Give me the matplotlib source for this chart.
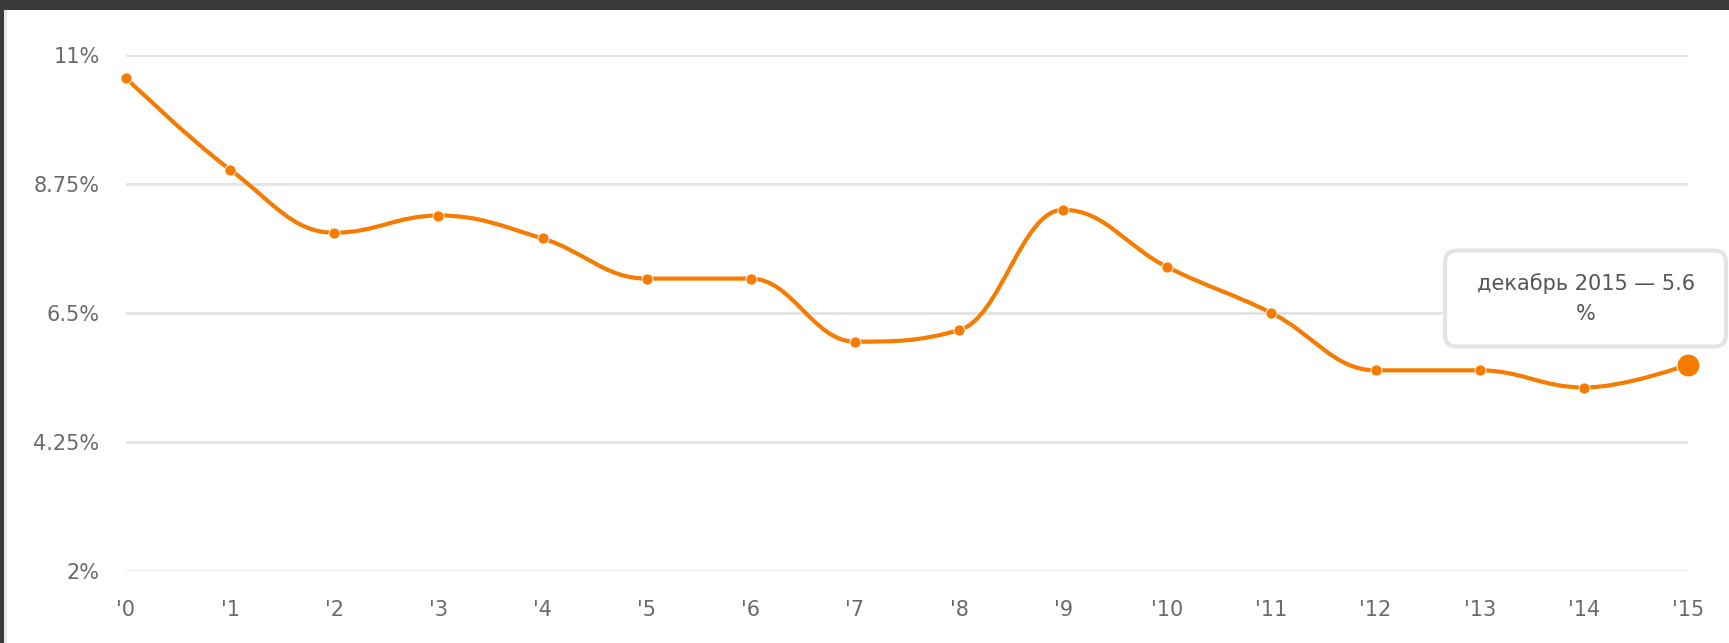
import matplotlib
matplotlib.use("Agg")
import matplotlib.pyplot as plt
from matplotlib.path import Path
from matplotlib.patches import PathPatch, Rectangle, FancyBboxPatch
from matplotlib.transforms import IdentityTransform

plt.rcParams['font.family'] = ['DejaVu Sans']

# data
years = list(range(16))
labels = ["'" + str(y) for y in years]
rates = [10.6, 9.0, 7.9, 8.2, 7.8, 7.1, 7.1, 6.0, 6.2, 8.3, 7.3, 6.5, 5.5, 5.5, 5.2, 5.6]
yticks = [2, 4.25, 6.5, 8.75, 11]
ytick_labels = ['2%', '4.25%', '6.5%', '8.75%', '11%']
tooltip = 'декабрь 2015 — 5.6\n%'

orange = '#f57c00'
grey_text = '#6a6a6a'


def spline_path(xs, ys, smoothing=1.5):
    # highcharts-like spline -> cubic bezier control points
    n = len(xs)
    left = [(xs[i], ys[i]) for i in range(n)]
    right = [(xs[i], ys[i]) for i in range(n)]
    d = smoothing + 1
    for i in range(1, n - 1):
        px, py = xs[i], ys[i]
        lx, ly = xs[i - 1], ys[i - 1]
        nx, ny = xs[i + 1], ys[i + 1]
        lcx = (smoothing * px + lx) / d
        lcy = (smoothing * py + ly) / d
        rcx = (smoothing * px + nx) / d
        rcy = (smoothing * py + ny) / d
        corr = (rcy - lcy) * (rcx - px) / (rcx - lcx) + py - rcy
        lcy += corr
        rcy += corr
        if lcy > ly and lcy > py:
            lcy = max(ly, py)
            rcy = 2 * py - lcy
        elif lcy < ly and lcy < py:
            lcy = min(ly, py)
            rcy = 2 * py - lcy
        if rcy > ny and rcy > py:
            rcy = max(ny, py)
            lcy = 2 * py - rcy
        elif rcy < ny and rcy < py:
            rcy = min(ny, py)
            lcy = 2 * py - rcy
        left[i] = (lcx, lcy)
        right[i] = (rcx, rcy)
    verts = [(xs[0], ys[0])]
    codes = [Path.MOVETO]
    for i in range(1, n):
        verts += [right[i - 1], left[i], (xs[i], ys[i])]
        codes += [Path.CURVE4] * 3
    return Path(verts, codes)


fig = plt.figure(figsize=(17.29, 6.43), dpi=100, facecolor='white')
ax = fig.add_axes([126 / 1729, 1 - 571 / 643, (1688 - 126) / 1729, (571 - 55) / 643])
ax.set_facecolor('white')

# page frame around the chart
fig.patches.append(Rectangle((0, 1 - 10 / 643), 1, 10 / 643, transform=fig.transFigure,
                             facecolor='#3b3b3b', edgecolor='none', zorder=0))
fig.patches.append(Rectangle((0, 0), 4 / 1729, 1, transform=fig.transFigure,
                             facecolor='#3b3b3b', edgecolor='none', zorder=0))
fig.patches.append(Rectangle((4 / 1729, 0), 3 / 1729, 1 - 10 / 643, transform=fig.transFigure,
                             facecolor='#e8e8e8', edgecolor='none', zorder=0))

ax.set_xlim(0, 15)
ax.set_ylim(2, 11)
for y in yticks:
    ax.axhline(y, color='#e3e3e3', lw=2, zorder=1)

ax.add_patch(PathPatch(spline_path(years, rates), facecolor='none', edgecolor=orange,
                       lw=3.0, clip_on=False, zorder=3, capstyle='round'))
ax.plot(years[:-1], rates[:-1], 'o', color=orange, ms=8, mec='white', mew=0.6,
        clip_on=False, zorder=4)
ax.plot(years[-1:], rates[-1:], 'o', color=orange, ms=16.5, mec='white', mew=0.8,
        clip_on=False, zorder=5)

ax.set_yticks(yticks)
ax.set_yticklabels(ytick_labels)
ax.set_xticks(years)
ax.set_xticklabels(labels)
ax.tick_params(axis='both', length=0, labelsize=15, colors=grey_text)
ax.tick_params(axis='y', pad=19)
ax.tick_params(axis='x', pad=21)
for s in ax.spines.values():
    s.set_visible(False)

# tooltip for the hovered (last) point, box placed in pixels relative to it
hx, hy = ax.transData.transform((years[-1], rates[-1]))
box = FancyBboxPatch((hx - 243, hy + 18), 281, 96,
                     boxstyle='round,pad=0,rounding_size=12',
                     transform=IdentityTransform(), fc='white', ec='#e4e4e4',
                     lw=3, zorder=6, clip_on=False)
ax.add_artist(box)
ax.annotate(tooltip, xy=(years[-1], rates[-1]), xycoords='data',
            xytext=(-102, 66), textcoords='offset pixels',
            ha='center', va='center', multialignment='center',
            fontsize=15, color='#555555', linespacing=1.6, zorder=7)

fig.savefig('out.png', dpi=100, facecolor='white')
